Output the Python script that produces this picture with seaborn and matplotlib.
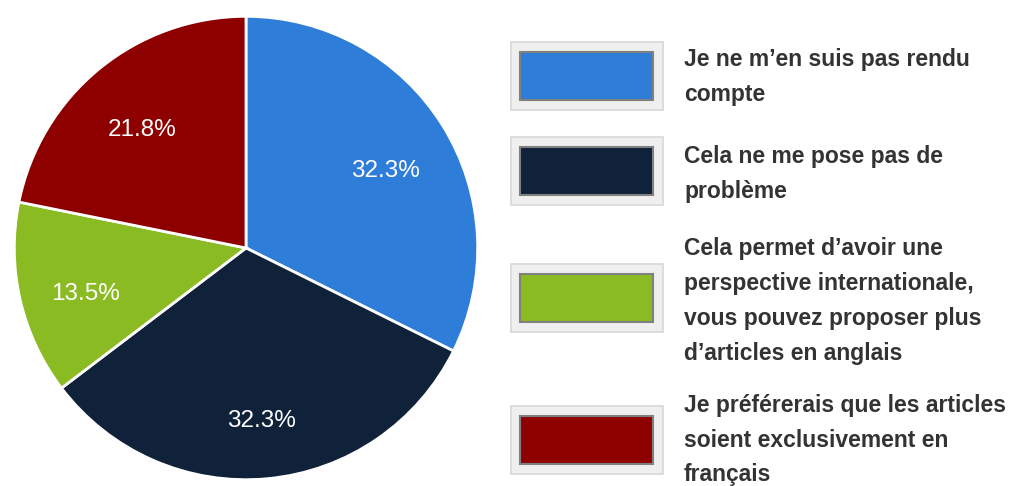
"""
Pie chart of survey answers with a boxed legend on the right.
"""

import matplotlib
matplotlib.use("Agg")
import matplotlib.pyplot as plt
from matplotlib.patches import Rectangle
import seaborn as sns

sns.set_theme(style="white")
plt.rcParams["font.family"] = ["Liberation Sans", "DejaVu Sans"]

LABELS = [
    "Je ne m\u2019en suis pas rendu\ncompte",
    "Cela ne me pose pas de\nprobl\u00e8me",
    "Cela permet d\u2019avoir une\nperspective internationale,\nvous pouvez proposer plus\nd\u2019articles en anglais",
    "Je pr\u00e9f\u00e9rerais que les articles\nsoient exclusivement en\nfran\u00e7ais",
]
VALUES = [32.3, 32.3, 13.5, 21.8]
COLORS = sns.color_palette(["#2e7dd8", "#0f2239", "#8abb23", "#8e0000"])

W, H = 1012, 486
fig = plt.figure(figsize=(W / 100, H / 100), dpi=100)

# pie: centre (246, 248) px, radius 234 px
cx, cy, r = 246, 248, 234
ax = fig.add_axes([(cx - r) / W, (H - cy - r) / H, 2 * r / W, 2 * r / H])
wedges, _, autotexts = ax.pie(
    VALUES, colors=COLORS, startangle=90, counterclock=False,
    autopct="%.1f%%", pctdistance=0.71, radius=1,
    wedgeprops={"edgecolor": "white", "linewidth": 2},
    textprops={"color": "white", "fontsize": 17.5},
)
for t in autotexts:
    x, y = t.get_position()
    t.set_position((x, y - 0.04))
ax.set_xlim(-1.01, 1.01); ax.set_ylim(-1.01, 1.01)
ax.set_aspect("equal")
ax.axis("off")

# legend drawn in pixel coordinates
lg = fig.add_axes([0, 0, 1, 1])
lg.set_xlim(0, W); lg.set_ylim(H, 0)
lg.axis("off")
box_y = [76, 171, 298, 440]
text_y = [77, 174, 301, 440]
for yc, ty, col, lab in zip(box_y, text_y, COLORS, LABELS):
    lg.add_patch(Rectangle((511, yc - 34), 152, 68, facecolor="#efefef",
                           edgecolor="#d8d8d8", lw=1.2))
    lg.add_patch(Rectangle((520, yc - 24), 133, 48, facecolor=col,
                           edgecolor="#808080", lw=1.5))
    lg.text(684, ty, lab, ha="left", va="center", fontsize=16.5,
            fontweight="bold", color="#333333", linespacing=1.65)

fig.savefig("out.png", dpi=100)
